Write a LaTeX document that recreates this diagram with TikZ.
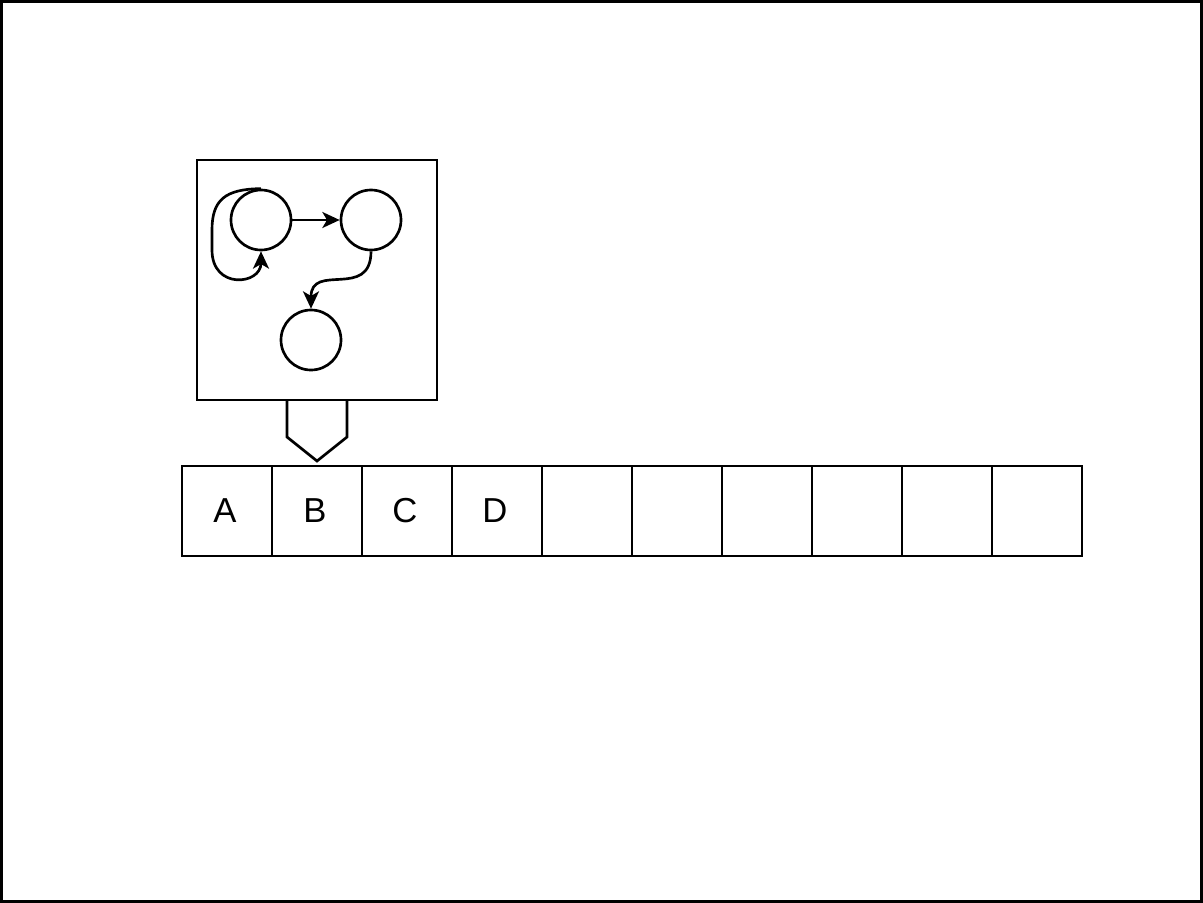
\documentclass[tikz,border=0pt]{standalone}
\usepackage{fontspec}
\setmainfont{Liberation Sans}
\usetikzlibrary{arrows.meta,positioning}
\begin{document}
\begin{tikzpicture}[x=0.75pt,y=-0.75pt,line width=2pt,>={Stealth[length=13pt,width=12pt,inset=3.5pt]},
state/.style={circle,draw,minimum size=45pt,inner sep=0pt},
cell/.style={draw,minimum size=67.5pt,inner sep=0pt,outer sep=0pt,font=\fontsize{26}{30}\selectfont}]
\useasboundingbox (0,0) rectangle (1203,903);
\draw (1.5,1.5) rectangle (1201.5,901.5);
% state machine
\draw (197,160) rectangle (437,400);
\node[state] (s1) at (261,220) {};
\node[state] (s2) at (371,220) {};
\node[state] (s3) at (311,340) {};
\draw[->] (s1) -- (s2);
\draw[->] (s2.south) .. controls (371,300) and (311,262) .. (s3.north);
\draw[->] (s1.north) .. controls (225,189) and (212,200) .. (212,230) -- (212,250)
  .. controls (212,290) and (261,285) .. (s1.south);
% pointer
\draw[line join=miter] (287,400) -- (287,437) -- (317,461) -- (347,437) -- (347,400);
% tape
\node[cell] (c0) at (227,511) {\hspace*{-3pt}A};
\foreach \t [count=\i] in {B,C,D,{},{},{},{},{},{}} {
  \pgfmathtruncatemacro\p{\i-1}
  \node[cell,right=0pt of c\p] (c\i) {\hspace*{-3pt}\t};
}
\end{tikzpicture}
\end{document}
